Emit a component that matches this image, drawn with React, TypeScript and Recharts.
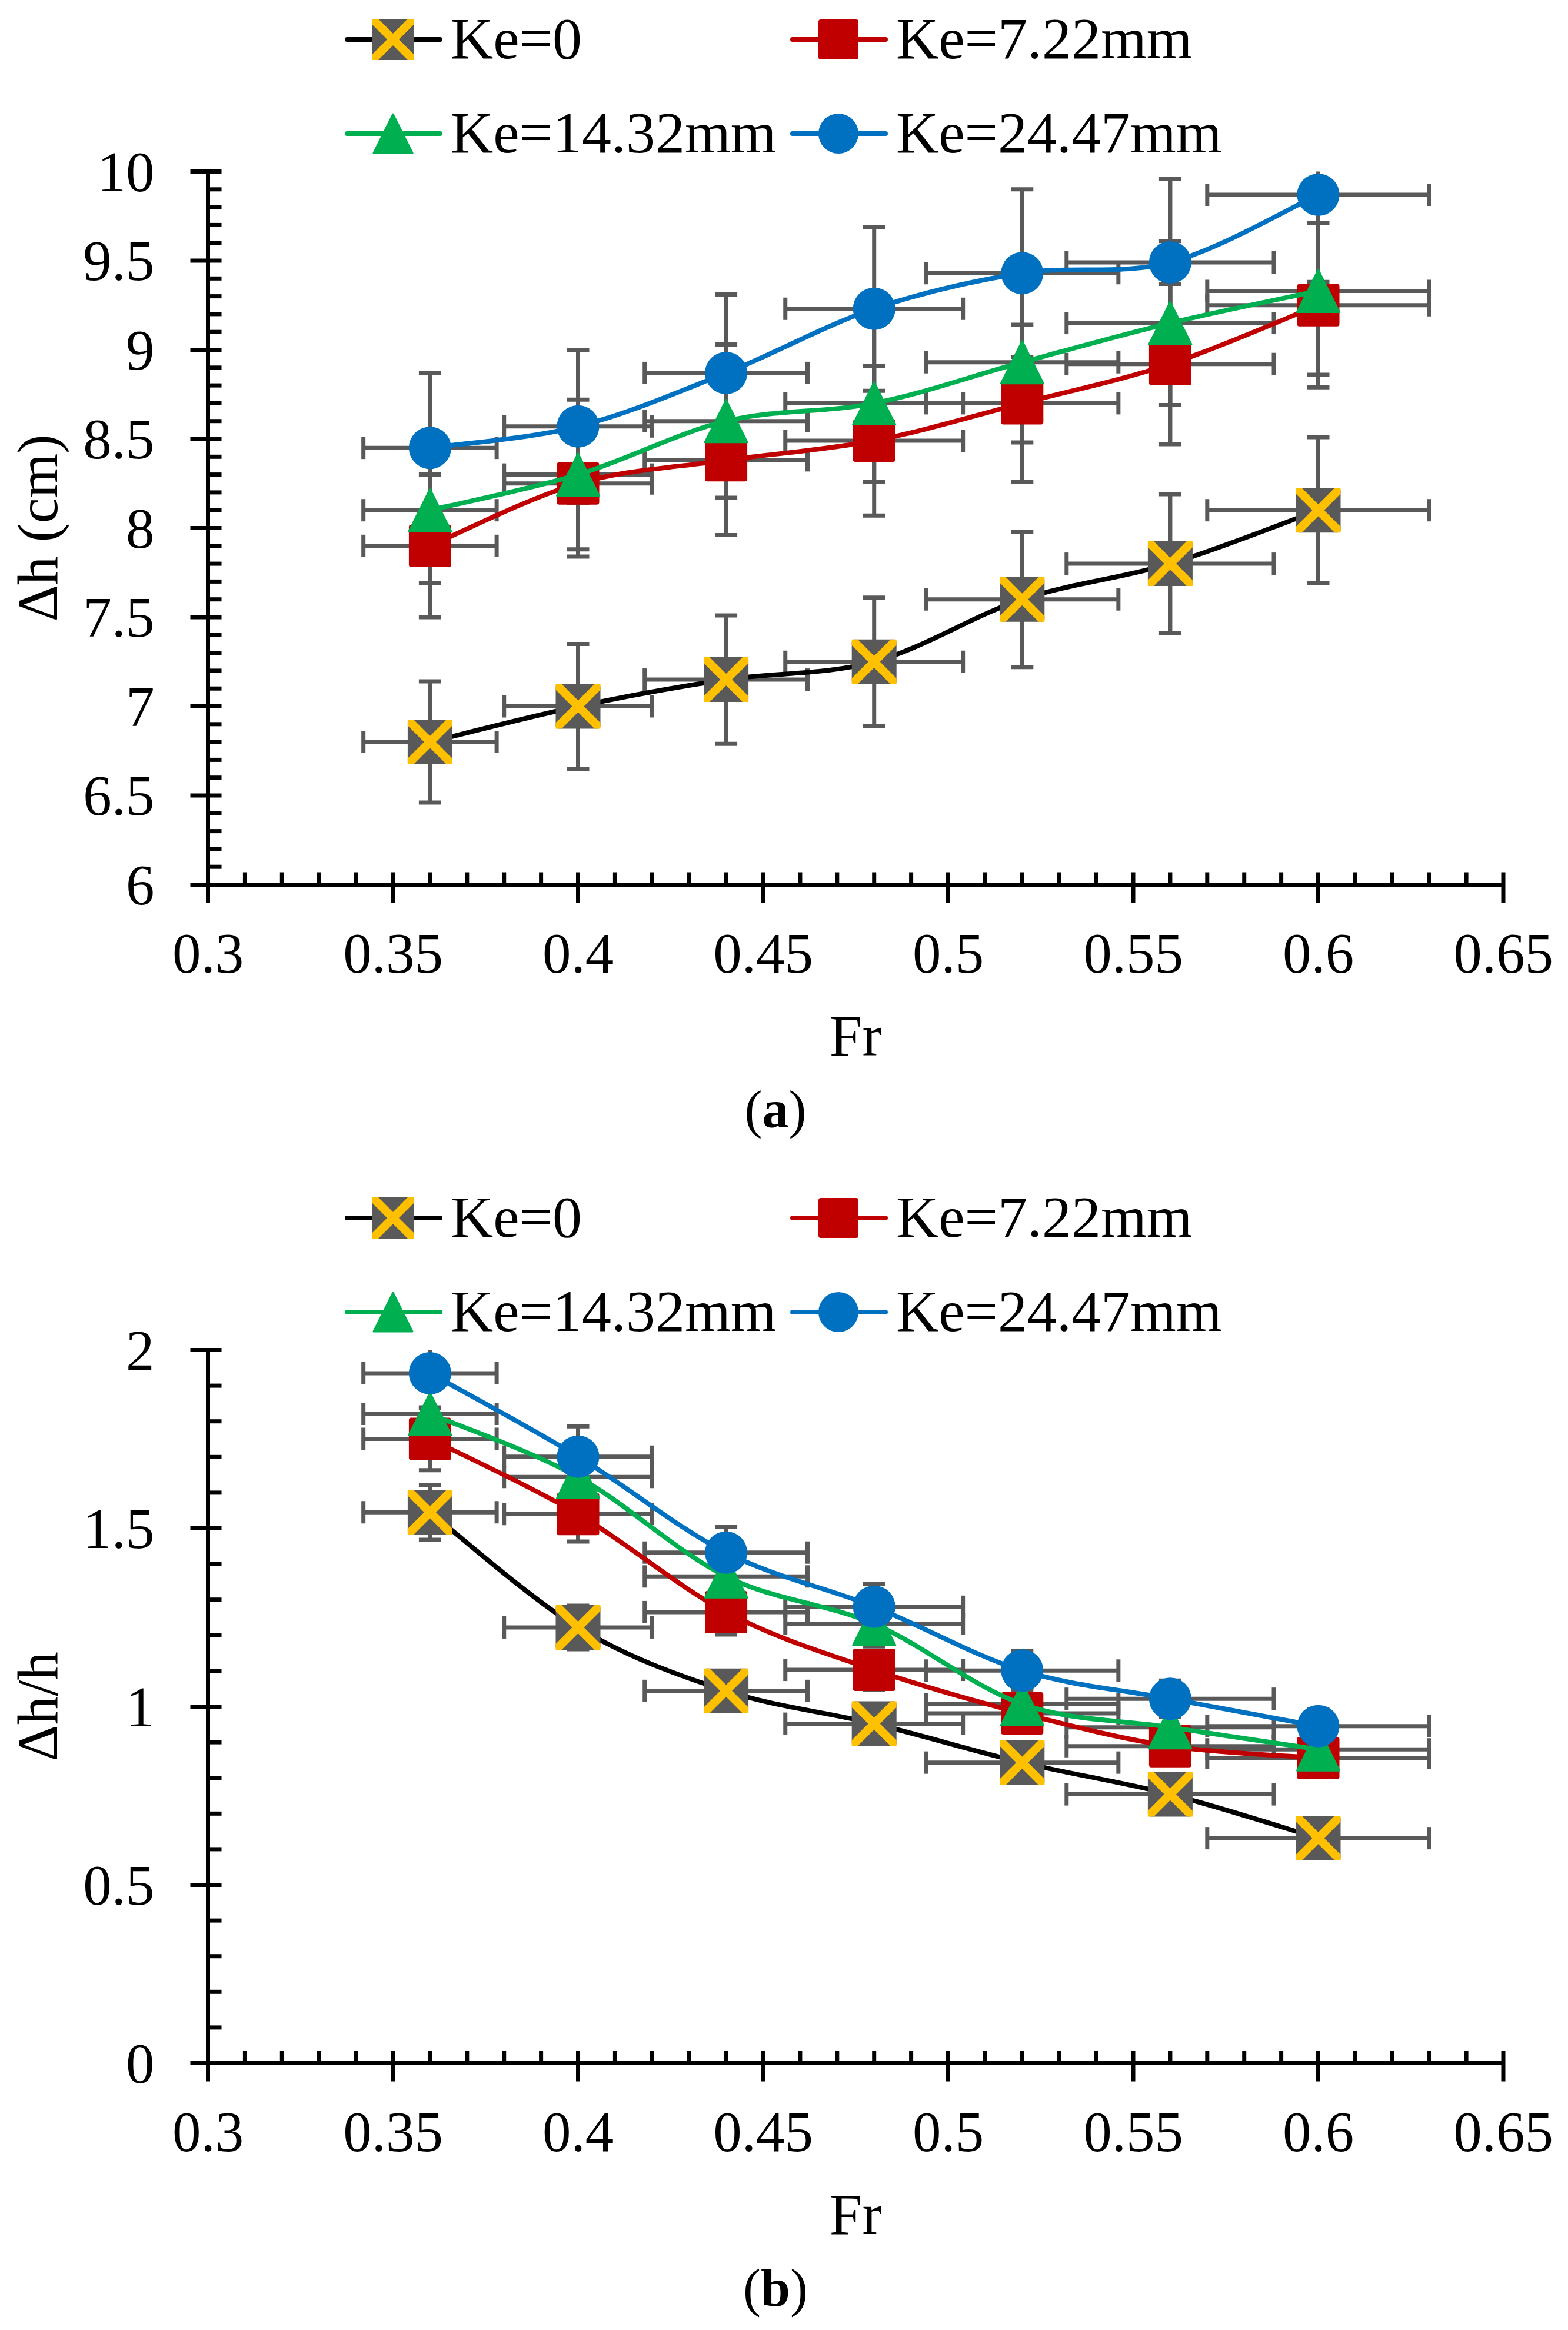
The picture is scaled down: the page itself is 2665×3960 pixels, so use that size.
import React from 'react';
import { ScatterChart, Scatter, XAxis, YAxis, ErrorBar, Legend } from 'recharts';

// ---------- data ----------
const FR = [0.36, 0.40, 0.44, 0.48, 0.52, 0.56, 0.60];
const FR_ERR = [0.018, 0.020, 0.022, 0.024, 0.026, 0.028, 0.030];

const SERIES_NAMES = ['Ke=0', 'Ke=7.22mm', 'Ke=14.32mm', 'Ke=24.47mm'];

// (a) Δh (cm)
const DH_KE0 = [6.8, 7.0, 7.15, 7.25, 7.6, 7.8, 8.1];
const DH_KE722 = [7.9, 8.25, 8.38, 8.49, 8.7, 8.92, 9.25];
const DH_KE1432 = [8.1, 8.3, 8.6, 8.7, 8.93, 9.15, 9.33];
const DH_KE2447 = [8.45, 8.57, 8.87, 9.23, 9.43, 9.49, 9.87];
const DH_KE0_ERR = [0.34, 0.35, 0.36, 0.36, 0.38, 0.39, 0.41];
const DH_KE722_ERR = [0.40, 0.41, 0.42, 0.42, 0.44, 0.45, 0.46];
const DH_KE1432_ERR = [0.41, 0.42, 0.43, 0.44, 0.45, 0.46, 0.47];
const DH_KE2447_ERR = [0.42, 0.43, 0.44, 0.46, 0.47, 0.47, 0.49];

// (b) Δh/h
const RT_KE0 = [1.545, 1.222, 1.044, 0.952, 0.843, 0.754, 0.631];
const RT_KE722 = [1.751, 1.54, 1.265, 1.103, 0.981, 0.889, 0.856];
const RT_KE1432 = [1.821, 1.644, 1.365, 1.232, 1.007, 0.942, 0.88];
const RT_KE2447 = [1.935, 1.701, 1.432, 1.28, 1.101, 1.022, 0.945];
const RT_KE0_ERR = [0.077, 0.061, 0.052, 0.048, 0.042, 0.038, 0.032];
const RT_KE722_ERR = [0.088, 0.077, 0.063, 0.055, 0.049, 0.044, 0.043];
const RT_KE1432_ERR = [0.091, 0.082, 0.068, 0.062, 0.050, 0.047, 0.044];
const RT_KE2447_ERR = [0.097, 0.085, 0.072, 0.064, 0.055, 0.051, 0.047];

// axes
const X_DOMAIN = [0.3, 0.65];
const X_MAJOR_LABELS = ['0.3', '0.35', '0.4', '0.45', '0.5', '0.55', '0.6', '0.65'];
const Y_DOMAIN_A = [6, 10];
const Y_LABELS_A = ['6', '6.5', '7', '7.5', '8', '8.5', '9', '9.5', '10'];
const Y_DOMAIN_B = [0, 2];
const Y_LABELS_B = ['0', '0.5', '1', '1.5', '2'];

// ---------- styling ----------
const FONT = "'Liberation Serif', 'Times New Roman', serif";
const COLORS = ['#000000', '#C00000', '#00B050', '#0070C0'];
const ERR_COLOR = '#595959';
const CHART_W = 2665;
const CHART_H = 1960;
const PLOT_L = 353.5;
const PLOT_R = 2555;
const PLOT_T = 291.5;
const PLOT_B = 1503.5;
const Y_W = 80;
const X_H = 80;
const MARGIN = { top: PLOT_T, left: PLOT_L - Y_W, right: CHART_W - PLOT_R, bottom: CHART_H - PLOT_B - X_H };

const xTicks: number[] = [];
for (let i = 30; i <= 65; i++) xTicks.push(i / 100);
const makeYTicks = (lo: number, hi: number) => {
  const t: number[] = [];
  for (let i = Math.round(lo * 10); i <= Math.round(hi * 10); i++) t.push(i / 10);
  return t;
};

// Excel-like smoothed line (Catmull-Rom through points)
function excelCurve(context: any) {
  let pts: number[][] = [];
  return {
    areaStart() {},
    areaEnd() {},
    lineStart() { pts = []; },
    point(x: number, y: number) { pts.push([+x, +y]); },
    lineEnd() {
      const n = pts.length;
      if (!n) return;
      context.moveTo(pts[0][0], pts[0][1]);
      for (let i = 0; i < n - 1; i++) {
        const p0 = pts[i > 0 ? i - 1 : 0];
        const p1 = pts[i];
        const p2 = pts[i + 1];
        const p3 = pts[i + 2 < n ? i + 2 : n - 1];
        context.bezierCurveTo(
          p1[0] + (p2[0] - p0[0]) / 6, p1[1] + (p2[1] - p0[1]) / 6,
          p2[0] - (p3[0] - p1[0]) / 6, p2[1] - (p3[1] - p1[1]) / 6,
          p2[0], p2[1]
        );
      }
    },
  };
}

// ---------- markers ----------
const MarkerX = ({ cx, cy, s = 76 }: any) => {
  const h = s / 2;
  const a = 10 * Math.SQRT2 * 0.5 * 1.0 + 3; // band half-width along axis
  const P = (pts: number[][]) => pts.map(([px, py]) => `${cx + px},${cy + py}`).join(' ');
  return (
    <g>
      <rect x={cx - h} y={cy - h} width={s} height={s} rx={5} fill="#595959" />
      <polygon
        fill="#FFC000"
        points={P([[-h, -h], [-h + a, -h], [h, h - a], [h, h], [h - a, h], [-h, -h + a]])}
      />
      <polygon
        fill="#FFC000"
        points={P([[-h, h], [-h, h - a], [h - a, -h], [h, -h], [h, -h + a], [-h + a, h]])}
      />
    </g>
  );
};
const MarkerSquare = ({ cx, cy, s = 72 }: any) => (
  <rect x={cx - s / 2} y={cy - s / 2} width={s} height={s} rx={4} fill="#C00000" />
);
const MarkerTri = ({ cx, cy, s = 72 }: any) => {
  const h = s / 2;
  return (
    <polygon
      points={`${cx},${cy - h} ${cx + h},${cy + h} ${cx - h},${cy + h}`}
      fill="#00B050"
      stroke="#00B050"
      strokeWidth={3}
      strokeLinejoin="round"
    />
  );
};
const MarkerCircle = ({ cx, cy, s = 72 }: any) => <circle cx={cx} cy={cy} r={s / 2} fill="#0070C0" />;
const MARKERS = [MarkerX, MarkerSquare, MarkerTri, MarkerCircle];
const PLOT_SIZES = [76, 72, 72, 72];
const LEGEND_SIZES = [70, 68, 66, 68];

// ---------- ticks ----------
const XTick = (props: any) => {
  const { x, y, payload } = props;
  const c = Math.round(payload.value * 100);
  const major = c % 5 === 0;
  const label = major ? X_MAJOR_LABELS[(c - 30) / 5] : null;
  return (
    <g>
      <line x1={x} x2={x} y1={y - 21} y2={major ? y + 31 : y} stroke="#000" strokeWidth={7} />
      {label && (
        <text x={x} y={y + 149} textAnchor="middle" fontSize={97} fontFamily={FONT} fill="#000">
          {label}
        </text>
      )}
    </g>
  );
};
const makeYTick = (labels: string[], lo: number) => (props: any) => {
  const { x, y, payload } = props;
  const c = Math.round(payload.value * 10);
  const major = c % 5 === 0;
  const label = major ? labels[(c - Math.round(lo * 10)) / 5] : null;
  return (
    <g>
      <line x1={major ? x - 30 : x} x2={x + 23} y1={y} y2={y} stroke="#000" strokeWidth={7} />
      {label && (
        <text x={x - 91} y={y + 33} textAnchor="end" fontSize={97} fontFamily={FONT} fill="#000">
          {label}
        </text>
      )}
    </g>
  );
};

// ---------- legend ----------
const LegendBox = () => {
  const items = [
    { x: 586, y: 67 },
    { x: 1343, y: 67 },
    { x: 586, y: 227 },
    { x: 1343, y: 227 },
  ];
  return (
    <svg width={CHART_W} height={290} style={{ display: 'block' }}>
      {SERIES_NAMES.map((name, i) => {
        const M = MARKERS[i];
        const { x, y } = items[i];
        return (
          <g key={name}>
            <line x1={x + 4} x2={x + 162} y1={y} y2={y} stroke={COLORS[i]} strokeWidth={8} strokeLinecap="round" />
            <M cx={x + 82} cy={y} s={LEGEND_SIZES[i]} />
            <text x={x + 180} y={y + 32} fontSize={100} fontFamily={FONT} fill="#000">
              {name}
            </text>
          </g>
        );
      })}
    </svg>
  );
};

const build = (vals: number[], errs: number[]) =>
  FR.map((x, i) => ({ x, y: vals[i], ex: FR_ERR[i], ey: errs[i] }));

const Panel = ({
  series,
  yDomain,
  yLabels,
  yTitle,
  caption,
}: {
  series: { vals: number[]; errs: number[] }[];
  yDomain: number[];
  yLabels: string[];
  yTitle: string;
  caption: string;
}) => {
  const datasets = series.map((s) => build(s.vals, s.errs));
  const YTick = makeYTick(yLabels, yDomain[0]);
  const midY = (PLOT_T + PLOT_B) / 2;
  const clipId = `plot-clip-${caption}`;
  return (
    <ScatterChart width={CHART_W} height={CHART_H} margin={MARGIN}>
      <XAxis
        type="number"
        dataKey="x"
        domain={X_DOMAIN}
        ticks={xTicks}
        interval={0}
        allowDataOverflow
        height={X_H}
        tickSize={0}
        tickMargin={0}
        tickLine={false}
        axisLine={{ stroke: '#000', strokeWidth: 7 }}
        tick={<XTick />}
        label={() => (
          <g>
            <text x={(PLOT_L + PLOT_R) / 2} y={PLOT_B + 290} textAnchor="middle" fontSize={100} fontFamily={FONT} fill="#000">
              Fr
            </text>
            <text x={1318} y={PLOT_B + 412} textAnchor="middle" fontSize={90} fontFamily={FONT} fill="#000">
              <tspan>(</tspan>
              <tspan fontWeight="bold">{caption}</tspan>
              <tspan>)</tspan>
            </text>
          </g>
        )}
      />
      <YAxis
        type="number"
        dataKey="y"
        domain={yDomain}
        ticks={makeYTicks(yDomain[0], yDomain[1])}
        interval={0}
        allowDataOverflow
        width={Y_W}
        tickSize={0}
        tickMargin={0}
        tickLine={false}
        axisLine={{ stroke: '#000', strokeWidth: 7 }}
        tick={<YTick />}
        label={() => (
          <g>
            <defs>
              <clipPath id={clipId} clipPathUnits="userSpaceOnUse">
                <rect x={0} y={PLOT_T} width={CHART_W} height={PLOT_B - PLOT_T} />
              </clipPath>
            </defs>
            <text
              x={97}
              y={midY}
              transform={`rotate(-90, 97, ${midY})`}
              textAnchor="middle"
              fontSize={97}
              fontFamily={FONT}
              fill="#000"
            >
              {yTitle}
            </text>
          </g>
        )}
      />
      <Legend
        verticalAlign="middle"
        align="center"
        layout="horizontal"
        wrapperStyle={{ top: 0, left: 0, width: CHART_W, height: 290, margin: 0, padding: 0 }}
        content={() => <LegendBox />}
      />
      {datasets.map((d, i) => (
        <Scatter
          key={`err-${i}`}
          name={`err-${i}`}
          data={d}
          isAnimationActive={false}
          shape={() => <g />}
          legendType="none"
        >
          <ErrorBar dataKey="ey" direction="y" width={19} stroke={ERR_COLOR} strokeWidth={7} clipPath={`url(#${clipId})`} />
          <ErrorBar dataKey="ex" direction="x" width={19} stroke={ERR_COLOR} strokeWidth={7} clipPath={`url(#${clipId})`} />
        </Scatter>
      ))}
      {datasets.map((d, i) => {
        const M = MARKERS[i];
        return (
          <Scatter
            key={SERIES_NAMES[i]}
            name={SERIES_NAMES[i]}
            data={d}
            isAnimationActive={false}
            fill={COLORS[i]}
            line={{ stroke: COLORS[i], strokeWidth: 8 }}
            lineType="joint"
            lineJointType={excelCurve as any}
            shape={(p: any) => <M cx={p.cx} cy={p.cy} s={PLOT_SIZES[i]} />}
          />
        );
      })}
    </ScatterChart>
  );
};

export default function App() {
  return (
    <div style={{ position: 'absolute', left: 0, top: 0, width: CHART_W, height: 3960, background: '#fff' }}>
      <div style={{ position: 'absolute', left: 0, top: 0 }}>
        <Panel
          series={[
            { vals: DH_KE0, errs: DH_KE0_ERR },
            { vals: DH_KE722, errs: DH_KE722_ERR },
            { vals: DH_KE1432, errs: DH_KE1432_ERR },
            { vals: DH_KE2447, errs: DH_KE2447_ERR },
          ]}
          yDomain={Y_DOMAIN_A}
          yLabels={Y_LABELS_A}
          yTitle="Δh (cm)"
          caption="a"
        />
      </div>
      <div style={{ position: 'absolute', left: 0, top: 2003 }}>
        <Panel
          series={[
            { vals: RT_KE0, errs: RT_KE0_ERR },
            { vals: RT_KE722, errs: RT_KE722_ERR },
            { vals: RT_KE1432, errs: RT_KE1432_ERR },
            { vals: RT_KE2447, errs: RT_KE2447_ERR },
          ]}
          yDomain={Y_DOMAIN_B}
          yLabels={Y_LABELS_B}
          yTitle="Δh/h"
          caption="b"
        />
      </div>
    </div>
  );
}
